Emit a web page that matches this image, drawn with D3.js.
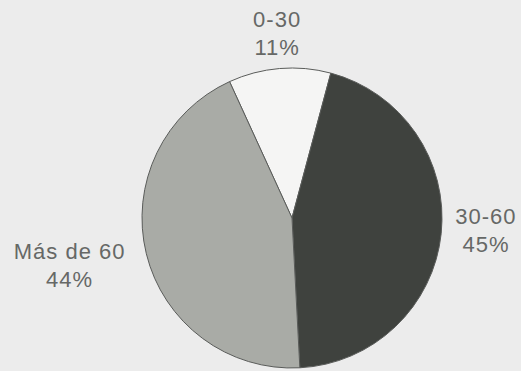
<!DOCTYPE html>
<html>
<head>
<meta charset="utf-8">
<script src="https://cdn.jsdelivr.net/npm/d3@7"></script>
<style>
  html, body { margin: 0; padding: 0; background: #ececec; }
  svg { display: block; }
</style>
</head>
<body>
<div id="chart"></div>
<script>
var width = 521,
    height = 371;

// data
var categories = ["0-30", "30-60", "Más de 60"];
var percents = [11, 45, 44];

// layout
var cx = 292, cy = 218, radius = 150;
var startAngle = -24.6 * Math.PI / 180;
var sliceColors = ["#f5f5f4", "#3f423e", "#a9aba6"];
var labelDist = [178, 195, 229];

var svg = d3.select("#chart").append("svg")
        .attr("width", width)
        .attr("height", height);

svg.append("rect")
        .attr("width", width)
        .attr("height", height)
        .attr("fill", "#ececec");

var pie = d3.pie()
        .sort(null)
        .value(function (d) { return d; })
        .startAngle(startAngle)
        .endAngle(startAngle + 2 * Math.PI);

var arc = d3.arc().innerRadius(0).outerRadius(radius);

var slices = pie(percents);

var g = svg.append("g").attr("transform", "translate(" + cx + "," + cy + ")");

g.selectAll(".slice")
        .data(slices)
        .enter().append("path")
        .attr("class", "slice")
        .attr("d", arc)
        .attr("fill", function (d, i) { return sliceColors[i]; })
        .attr("stroke", "#5a5c5a")
        .attr("stroke-width", 1);

var labels = g.selectAll(".lbl")
        .data(slices)
        .enter().append("text")
        .attr("class", "lbl")
        .attr("transform", function (d, i) {
            var la = d3.arc().innerRadius(labelDist[i]).outerRadius(labelDist[i]);
            var c = la.centroid(d);
            return "translate(" + c[0] + "," + c[1] + ")";
        })
        .attr("text-anchor", "middle")
        .attr("font-family", "'Liberation Sans', Arial, sans-serif")
        .attr("font-size", 22)
        .attr("letter-spacing", 1)
        .attr("fill", "#666866");

labels.append("tspan")
        .attr("x", 0)
        .attr("y", -14)
        .text(function (d, i) { return categories[i]; });

labels.append("tspan")
        .attr("x", 0)
        .attr("y", 14)
        .text(function (d) { return d.data + "%"; });
</script>
</body>
</html>
